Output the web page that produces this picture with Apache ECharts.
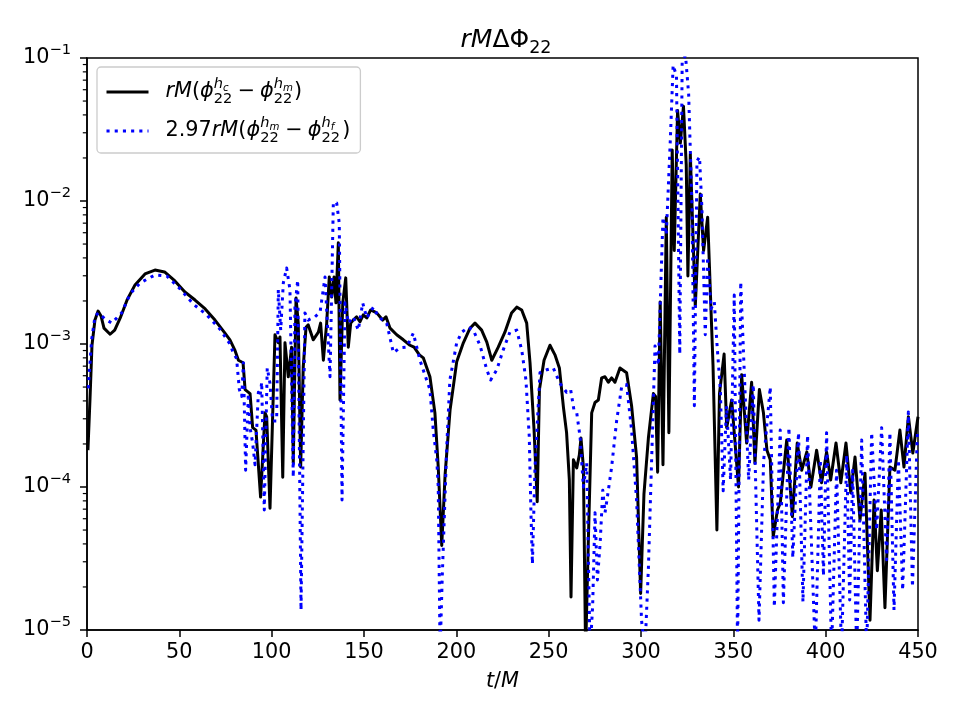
<!DOCTYPE html>
<html>
<head>
<meta charset="utf-8">
<script src="https://cdn.jsdelivr.net/npm/echarts@6/dist/echarts.min.js"></script>
<style>html,body{margin:0;padding:0;background:#fff;}#chart{width:960px;height:720px;}</style>
</head>
<body>
<div id="chart"></div>
<script>
// ---- data ----
const tBlack = [0.5,1.6,2.7,4.3,6.0,7.6,9.2,12.5,15,18,
21.7,26,31.4,36.8,42,47.6,53,58.5,64,69.3,
74.7,77.4,80,82,84.5,85.6,88.3,89.7,91.5,94,
96.4,97.3,99.1,101.8,103.6,104.5,106,107.2,109,110.8,
111.7,113.2,114.4,115.7,117.1,118.6,119.8,122.5,125.3,126.5,
128,129.8,131.2,132.5,133.8,134.8,136.1,137,138.5,140.1,
141.5,142.8,144.2,146,147.8,149.6,151.5,153.6,156.9,160.1,
161.9,164.1,167.7,171.3,174.9,177.1,180,182.1,185.7,188.4,
190.2,192.1,193.9,196.6,200.2,203.8,207.4,210.1,213.7,216.5,
219.2,222.7,226.3,229.9,232.7,235.4,238.1,239.9,242.1,243.8,
245,247.5,250.7,253.4,255.8,258,259.7,261.2,262.1,263.4,
265.2,266.6,267.5,268.8,270,271.5,273.3,275.1,276.9,278.7,
280.5,282.3,284.1,285.9,288.6,292.2,294.9,297.6,299.8,301.6,
304,306.7,307.9,309,310.4,311.9,313.7,315.1,316.9,318,
319.8,321.3,323,324.5,325.4,326.7,329.4,332.1,333.9,336.1,
339,341.1,342.5,345,346.4,349.1,352.8,354.5,357.2,359.9,
361.7,364.1,366.3,368.2,370,371.6,373.9,375.4,378.9,382,
384.6,387,389.8,392,395.1,397.8,400.5,402.7,405.6,408.2,
411,413.6,415.9,418.6,421.3,424,426.2,428,430.1,432.1,
434.8,437.5,440.2,442.4,444.8,447.2,450];
const rmBlack = [1.81e-4,4.06e-4,9.8e-4,1.47e-3,1.70e-3,1.57e-3,1.29e-3,1.17e-3,1.25e-3,1.52e-3,
2.03e-3,2.59e-3,3.09e-3,3.29e-3,3.19e-3,2.76e-3,2.31e-3,2.03e-3,1.76e-3,1.47e-3,
1.19e-3,1.07e-3,9.1e-4,7.7e-4,7.4e-4,4.8e-4,4.5e-4,2.6e-4,2.5e-4,8.5e-5,
3.3e-4,3.1e-4,7.1e-5,1.16e-3,1.02e-3,1.12e-3,1.17e-4,1.02e-3,5.9e-4,9.5e-4,
1.47e-4,2.1e-3,1.40e-3,1.38e-4,6.9e-4,1.31e-3,1.36e-3,1.07e-3,1.21e-3,1.40e-3,
7.7e-4,1.40e-3,2.94e-3,2.13e-3,2.94e-3,1.94e-3,5.1e-3,4.06e-4,1.94e-3,2.9e-3,
9.5e-4,1.40e-3,1.47e-3,1.55e-3,1.43e-3,1.6e-3,1.52e-3,1.73e-3,1.65e-3,1.47e-3,
1.55e-3,1.29e-3,1.16e-3,1.07e-3,9.8e-4,9.5e-4,8.4e-4,8.0e-4,5.9e-4,3.3e-4,
1.38e-4,3.9e-5,1.21e-4,3.45e-4,7.5e-4,1.02e-3,1.29e-3,1.40e-3,1.25e-3,1.03e-3,
7.7e-4,9.5e-4,1.21e-3,1.65e-3,1.81e-3,1.73e-3,1.40e-3,7.4e-4,2.5e-4,7.9e-5,
4.8e-4,7.7e-4,9.8e-4,8.4e-4,6.8e-4,3.6e-4,2.4e-4,1.12e-4,1.7e-5,1.55e-4,
1.36e-4,1.67e-4,2.2e-4,1.38e-4,7e-6,4.3e-5,3.3e-4,3.9e-4,4.06e-4,5.8e-4,
5.9e-4,5.4e-4,5.8e-4,5.4e-4,6.8e-4,6.3e-4,3.7e-4,1.62e-4,1.8e-5,8.9e-5,
2.2e-4,4.5e-4,4.3e-4,1.27e-4,1.97e-3,1.43e-4,7.7e-3,2.4e-4,2.27e-2,4.5e-3,
4.3e-2,2.54e-2,4.6e-2,1.79e-2,2.99e-3,2.13e-2,1.84e-3,1.12e-2,4.5e-3,7.7e-3,
7.1e-4,5.0e-5,4.5e-4,8.5e-4,2.6e-4,4.06e-4,1.0e-4,6.1e-4,2.03e-4,5.4e-4,
1.47e-4,4.8e-4,3.3e-4,1.81e-4,1.55e-4,4.5e-5,6.9e-5,7.7e-5,2.13e-4,6.2e-5,
2.03e-4,1.31e-4,1.76e-4,1.0e-4,1.81e-4,1.07e-4,1.76e-4,1.12e-4,2.03e-4,1.07e-4,
2.03e-4,9.1e-5,1.62e-4,5.9e-5,1.25e-4,1.17e-5,8.1e-5,2.6e-5,6.9e-5,1.43e-5,
1.38e-4,1.31e-4,2.5e-4,1.38e-4,3.1e-4,1.73e-4,3.1e-4];

const tBlue = [0.7,2.5,4.3,6.1,9.7,13.4,18.8,23.3,28.7,36.8,
43.2,50.4,57.6,64.8,72,77.4,79.2,81,82.5,83.8,
84.7,85.9,87.4,88.3,89.7,91,92.8,93.7,94.6,96,
97.6,99.1,100.5,102.7,103.6,104.9,106.3,108.1,109.9,111.7,
112.6,114.1,115.9,118,119.8,123.5,126.2,128.9,131.6,133.4,
135.2,136.6,138.1,139.7,141.5,144.2,146.9,149.3,151.5,155.1,
157.8,162.3,165.9,169.5,173.1,176.7,180.3,183.9,185.7,187.5,
189.4,190.2,191.2,192.4,194.8,196.5,200.2,202.9,206.5,209.2,
212.8,216.5,218.6,221.9,225.4,229,232.7,235.4,237.7,239.5,
240.4,241.2,242.6,245.3,248.9,252.5,256.1,259.7,261.9,263.7,
265.2,267,268.8,270.6,272.4,273.8,275.1,276.4,277.9,279.3,
280.5,281.8,284.1,286.8,289.5,292.2,294.9,297.6,300.3,302.1,
304,305.8,307.6,309.4,310.7,311.9,313.7,315.9,317.4,319.2,
321,322.3,324.1,325.8,327.6,328.9,330.3,331.7,333,334.8,
336.1,337.9,339.7,341.1,343,344.5,346.3,348.5,350.5,352.3,
354,356,358.3,360.8,363.9,366.4,370,372.2,375.4,377.1,
380.1,382.2,385.3,387.7,390.2,394.4,397.1,398.8,400.5,403.2,
405.9,408.6,411.4,413,414.6,416.8,419.5,422.2,424.9,427.6,
430.3,433,434.8,437,439.4,441.7,444.8,447,449.7];
const rmBlue = [4.9e-4,1.07e-3,1.55e-3,1.65e-3,1.50e-3,1.40e-3,1.65e-3,2.24e-3,2.67e-3,3.04e-3,
2.99e-3,2.43e-3,1.90e-3,1.60e-3,1.27e-3,1.0e-3,8.7e-4,7.9e-4,4.8e-4,4.3e-4,
7.4e-4,1.31e-4,4.5e-4,2.6e-4,2.03e-4,1.43e-4,4.6e-4,4.3e-4,5.4e-4,6.9e-5,
6.8e-4,5.3e-4,2.9e-4,2.9e-4,2.4e-3,1.25e-3,2.67e-3,3.4e-3,2.4e-3,1.17e-4,
1.81e-3,2.8e-3,1.38e-5,1.65e-3,1.47e-3,1.55e-3,1.67e-3,2.94e-3,5.9e-4,9.8e-3,
9.7e-3,7.0e-3,8.1e-5,1.94e-3,1.40e-3,1.55e-3,1.25e-3,1.94e-3,1.52e-3,1.81e-3,
1.55e-3,1.40e-3,8.7e-4,9.4e-4,9.5e-4,1.19e-3,7.7e-4,5.6e-4,4.8e-4,2.5e-4,
1.55e-4,1.0e-4,7e-6,2.4e-5,1.9e-4,5.6e-4,1.02e-3,1.21e-3,1.31e-3,1.25e-3,
9.8e-4,6.6e-4,5.6e-4,6.6e-4,9.1e-4,1.21e-3,1.25e-3,9.1e-4,5.6e-4,2.24e-4,
6.6e-5,2.9e-5,1.38e-4,6.3e-4,6.6e-4,6.8e-4,5.3e-4,4.6e-4,4.8e-4,3.45e-4,
3.3e-4,2.24e-4,1.0e-4,1.47e-4,7e-6,1.45e-5,6.6e-5,2.24e-5,4.1e-5,9.5e-5,
6.6e-5,8.5e-5,1.38e-4,2.9e-4,5.0e-4,5.2e-4,2.5e-4,8.1e-5,1.17e-5,7e-6,
2.7e-5,1.62e-4,9.7e-4,7.1e-4,2.5e-3,7.7e-3,5.8e-3,2.72e-2,8.9e-2,7.5e-2,
8.5e-4,9.5e-2,1.04e-1,5.6e-2,9.2e-3,3.7e-4,1.9e-2,2.03e-2,8.8e-3,1.16e-3,
4.06e-3,1.76e-3,1.97e-3,1.02e-3,4.7e-4,9.4e-5,3.7e-4,1.12e-4,2.2e-3,7e-6,
2.72e-3,6.0e-4,1.12e-4,5.2e-4,1.17e-5,1.52e-4,5.0e-4,1.45e-5,2.5e-4,1.55e-5,
2.6e-4,3.2e-5,2.4e-4,1.57e-5,2.3e-4,7e-6,1.55e-4,2.4e-5,2.4e-4,7e-6,
1.31e-4,7e-6,1.67e-4,1.62e-5,1.31e-4,7e-6,2.13e-4,7e-6,2.4e-4,5.0e-5,
2.6e-4,3.1e-5,2.4e-4,1.38e-5,1.55e-4,1.9e-5,3.35e-4,2.0e-5,2.5e-4];

const xTicks = [0, 50, 100, 150, 200, 250, 300, 350, 400, 450];
const yDecades = [1e-5, 1e-4, 1e-3, 1e-2, 1e-1];
const yMinorMult = [2, 3, 4, 5, 6, 7, 8, 9];
const nameBlack = 'rM(phi22_hc - phi22_hm)';
const nameBlue = '2.97rM(phi22_hm - phi22_hf)';

// ---- chart ----
const FONT = 'DejaVu Sans';
const FS = 20.8;
const minorVals = [];
yDecades.slice(0, -1).forEach(d => yMinorMult.forEach(m => minorVals.push(+(d * m).toPrecision(3))));

const base = { fontFamily: FONT, color: '#000', fontWeight: 'normal' };
const scriptRich = {
  n: Object.assign({}, base, { fontSize: FS, lineHeight: 30, verticalAlign: 'middle' }),
  n0: Object.assign({}, base, { fontSize: FS, lineHeight: 30, verticalAlign: 'middle', padding: [0, 0, 0, 12] }),
  it: Object.assign({}, base, { fontSize: FS, fontStyle: 'italic', lineHeight: 30, verticalAlign: 'middle' }),
  it0: Object.assign({}, base, { fontSize: FS, fontStyle: 'italic', lineHeight: 30, verticalAlign: 'middle', padding: [0, 0, 0, 12] }),
  op: Object.assign({}, base, { fontSize: FS, lineHeight: 30, verticalAlign: 'middle', padding: [0, 5, 0, 5] }),
  sb: Object.assign({}, base, { fontSize: 14.6, lineHeight: 17, verticalAlign: 'bottom', width: 0, align: 'left' }),
  sp: Object.assign({}, base, { fontSize: 14.6, fontStyle: 'italic', lineHeight: 17, verticalAlign: 'top' }),
  ssc: Object.assign({}, base, { fontSize: 10.2, fontStyle: 'italic', lineHeight: 12, verticalAlign: 'top', padding: [6, 4, 0, 0] }),
  ssm: Object.assign({}, base, { fontSize: 10.2, fontStyle: 'italic', lineHeight: 12, verticalAlign: 'top', padding: [6, 1, 0, 0] }),
  ssf: Object.assign({}, base, { fontSize: 10.2, fontStyle: 'italic', lineHeight: 12, verticalAlign: 'top', padding: [6, 8, 0, 0] })
};
const legendText = {};
legendText[nameBlack] = '{it0|rM}{n|(}{it|ϕ}{sb|22}{sp|h}{ssc|c}{op|−}{it|ϕ}{sb|22}{sp|h}{ssm|m}{n|)}';
legendText[nameBlue] = '{n0|2.97}{it|rM}{n|(}{it|ϕ}{sb|22}{sp|h}{ssm|m}{op|−}{it|ϕ}{sb|22}{sp|h}{ssf|f}{n|)}';

const chart = echarts.init(document.getElementById('chart'), null, { renderer: 'canvas' });
chart.setOption({
  animation: false,
  backgroundColor: '#ffffff',
  title: {
    text: '{i|rM}{n|ΔΦ}{s|22}',
    left: 501, top: 18, textAlign: 'center',
    textStyle: {
      fontWeight: 'normal',
      rich: {
        i: Object.assign({}, base, { fontSize: 25, fontStyle: 'italic', lineHeight: 34, verticalAlign: 'middle' }),
        n: Object.assign({}, base, { fontSize: 25, lineHeight: 34, verticalAlign: 'middle' }),
        s: Object.assign({}, base, { fontSize: 17.5, lineHeight: 22, verticalAlign: 'bottom' })
      }
    }
  },
  grid: { left: 87, right: 42, top: 58, bottom: 90, show: true, borderColor: '#000', borderWidth: 1.5, backgroundColor: 'transparent' },
  legend: {
    orient: 'vertical', left: 97, top: 67,
    padding: [10, 10, 7, 8], itemGap: 9, itemWidth: 42, itemHeight: 2,
    backgroundColor: 'rgba(255,255,255,0.8)', borderColor: '#cccccc', borderWidth: 1.3, borderRadius: 4,
    selectedMode: false,
    itemStyle: { opacity: 0, borderWidth: 0 },
    lineStyle: { width: 3 },
    data: [nameBlack, nameBlue],
    formatter: name => legendText[name],
    textStyle: { color: '#000', fontFamily: FONT, fontSize: FS, rich: scriptRich }
  },
  xAxis: {
    type: 'value', min: 0, max: 450, interval: 50,
    name: '{i|t}{n|/}{i|M}', nameLocation: 'middle', nameGap: 41,
    nameTextStyle: {
      rich: {
        i: Object.assign({}, base, { fontSize: FS, fontStyle: 'italic' }),
        n: Object.assign({}, base, { fontSize: FS })
      }
    },
    axisLine: { show: true, onZero: false, lineStyle: { color: '#000', width: 1.5 } },
    axisTick: { show: true, inside: false, length: 7, lineStyle: { color: '#000', width: 1.5 } },
    axisLabel: { color: '#000', fontFamily: FONT, fontSize: FS, margin: 12, customValues: xTicks },
    splitLine: { show: false }
  },
  yAxis: {
    type: 'log', logBase: 10, min: yDecades[0], max: yDecades[yDecades.length - 1],
    axisLine: { show: true, lineStyle: { color: '#000', width: 1.5 } },
    axisTick: { show: true, inside: false, length: 7, lineStyle: { color: '#000', width: 1.5 } },
    axisLabel: {
      margin: 16,
      formatter: v => '{b|10}{s|−' + Math.abs(Math.round(Math.log10(v))) + '}',
      rich: {
        b: Object.assign({}, base, { fontSize: FS, lineHeight: 30, verticalAlign: 'middle' }),
        s: Object.assign({}, base, { fontSize: 14.6, lineHeight: 17, verticalAlign: 'top' })
      }
    },
    splitLine: { show: false },
    minorTick: { show: false }
  },
  series: [
    {
      name: nameBlack, type: 'line', symbol: 'none', showSymbol: false, clip: true, z: 3,
      data: tBlack.map((t, i) => [t, rmBlack[i]]),
      lineStyle: { color: '#000000', width: 3, join: 'round' },
      itemStyle: { color: '#000000' },
      emphasis: { disabled: true }
    },
    {
      name: nameBlue, type: 'line', symbol: 'none', showSymbol: false, clip: true, z: 4,
      data: tBlue.map((t, i) => [t, rmBlue[i]]),
      lineStyle: { color: '#0000ff', width: 3, type: [3.1, 5.1], cap: 'butt', join: 'round' },
      itemStyle: { color: '#0000ff' },
      emphasis: { disabled: true }
    },
    {
      name: 'minorTicks', type: 'custom', coordinateSystem: 'cartesian2d', silent: true, clip: false, z: 6,
      data: minorVals.map(v => [0, v]),
      renderItem: (params, api) => {
        const p = api.coord([0, api.value(1)]);
        return { type: 'line', shape: { x1: p[0] - 4.2, y1: p[1], x2: p[0], y2: p[1] }, style: { stroke: '#000', lineWidth: 1.2 } };
      }
    }
  ]
});
</script>
</body>
</html>
